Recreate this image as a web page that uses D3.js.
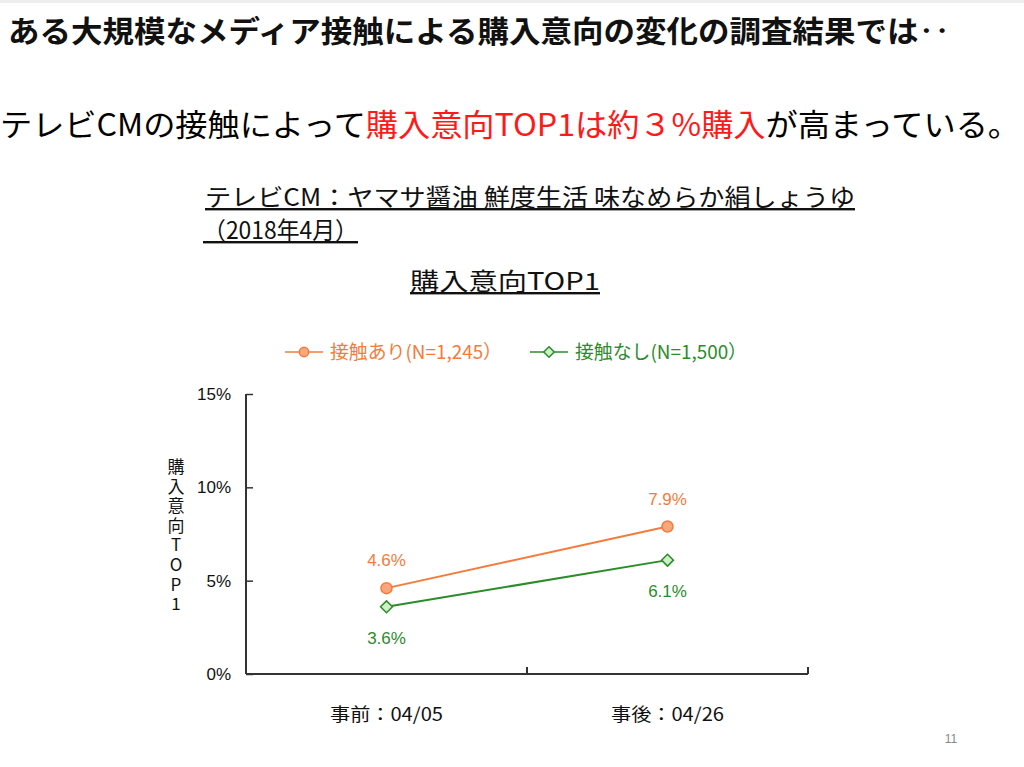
<!DOCTYPE html>
<html>
<head>
<meta charset="utf-8">
<script src="https://cdn.jsdelivr.net/npm/d3@7"></script>
<style>
body{ margin:0; background:#fff; }
svg{ display:block; }
text{ font-family:"Liberation Sans","Noto Sans CJK JP",sans-serif; }
.jp{ font-family:"Noto Sans CJK JP",sans-serif; }
</style>
</head>
<body>
<svg id="chart"></svg>
<script>
// data
var categories = ['事前：04/05', '事後：04/26'];
var series_names = ['接触あり(N=1,245）', '接触なし(N=1,500）'];
var values_ari = [4.6, 7.9];
var values_nashi = [3.6, 6.1];
var y_ticks = [0, 5, 10, 15];

var W = 1024, H = 767;
var svg = d3.select('#chart').attr('width', W).attr('height', H);

var orange = '#f47b3c', orange_fill = '#f9a77a';
var green = '#2b8c2b', green_fill = '#cdf0c6';

/**************************************************************************************/
// header texts

svg.append('rect').attr('x', 0).attr('y', 0).attr('width', W).attr('height', 3).attr('fill', '#eeeeee');

svg.append('text').attr('class', 'jp')
    .attr('x', 8).attr('y', 42)
    .attr('textLength', 942).attr('lengthAdjust', 'spacingAndGlyphs')
    .style('font-size', '30px').style('font-weight', 'bold').attr('fill', '#111')
    .text('ある大規模なメディア接触による購入意向の変化の調査結果では‥');

var line2 = svg.append('text').attr('class', 'jp')
    .attr('x', 0).attr('y', 136)
    .attr('textLength', 1020).attr('lengthAdjust', 'spacingAndGlyphs')
    .style('font-size', '31px').attr('fill', '#000');
line2.append('tspan').text('テレビCMの接触によって');
line2.append('tspan').attr('fill', '#ff1a1a').text('購入意向TOP1は約３%購入');
line2.append('tspan').text('が高まっている。');

svg.append('text').attr('class', 'jp')
    .attr('x', 205).attr('y', 206)
    .attr('textLength', 650).attr('lengthAdjust', 'spacingAndGlyphs')
    .style('font-size', '24px').style('text-decoration', 'underline').attr('fill', '#111')
    .text('テレビCM：ヤマサ醤油 鮮度生活 味なめらか絹しょうゆ');

svg.append('text').attr('class', 'jp')
    .attr('x', 203).attr('y', 239)
    .attr('textLength', 155).attr('lengthAdjust', 'spacingAndGlyphs')
    .style('font-size', '24px').style('text-decoration', 'underline').attr('fill', '#111')
    .text('（2018年4月）');

svg.append('text').attr('class', 'jp')
    .attr('x', 410).attr('y', 290)
    .attr('textLength', 190).attr('lengthAdjust', 'spacingAndGlyphs')
    .style('font-size', '24px').style('text-decoration', 'underline').attr('fill', '#111')
    .text('購入意向TOP1');

/**************************************************************************************/
// chart

var plot = { left: 246, right: 808, top: 394, bottom: 674 };

var x = d3.scaleBand().domain(categories).range([plot.left, plot.right]);
var y = d3.scaleLinear().domain([0, 15]).range([plot.bottom, plot.top]);

var yAxis = svg.append('g')
    .attr('transform', 'translate(' + plot.left + ',0)')
    .call(d3.axisLeft(y).tickValues(y_ticks).tickSize(-7).tickFormat(function(d){ return d + '%'; }));
yAxis.select('.domain').attr('stroke', '#333').attr('stroke-width', 2).attr('d', 'M0,' + plot.top + 'V' + plot.bottom);
yAxis.selectAll('.tick line').attr('stroke', '#333').attr('stroke-width', 1.5);
yAxis.selectAll('.tick text').attr('x', -15).attr('fill', '#111').style('font-size', '17px');

var xAxis = svg.append('g')
    .attr('transform', 'translate(0,' + plot.bottom + ')')
    .call(d3.axisBottom(x).tickSize(0).tickPadding(0));
xAxis.select('.domain').attr('stroke', '#333').attr('stroke-width', 2).attr('d', 'M' + plot.left + ',0H' + plot.right);
xAxis.selectAll('.tick text').attr('class', 'jp').attr('y', 34).attr('fill', '#111')
    .style('font-size', '18px').attr('textLength', 113).attr('lengthAdjust', 'spacingAndGlyphs');

// band dividers on the x axis
var dividers = categories.map(function(c){ return x(c) + x.bandwidth(); });
svg.selectAll('.divider').data(dividers).enter().append('line')
    .attr('class', 'divider')
    .attr('x1', function(d){ return d; }).attr('x2', function(d){ return d; })
    .attr('y1', plot.bottom).attr('y2', plot.bottom - 7)
    .attr('stroke', '#333').attr('stroke-width', 2);

// y axis title (vertical stacked)
svg.append('text').attr('class', 'jp')
    .attr('x', 176).attr('y', 458)
    .style('writing-mode', 'vertical-rl').style('text-orientation', 'upright')
    .style('font-size', '17px').style('letter-spacing', '2.6px').attr('fill', '#111')
    .text('購入意向TOP1');

var cx = function(d, i){ return x(categories[i]) + x.bandwidth() / 2; };
var line = d3.line().x(cx).y(function(d){ return y(d); });

// series 1
svg.append('path').datum(values_ari).attr('d', line)
    .attr('fill', 'none').attr('stroke', orange).attr('stroke-width', 2);
svg.selectAll('.pt1').data(values_ari).enter().append('circle')
    .attr('cx', cx).attr('cy', function(d){ return y(d); }).attr('r', 5.5)
    .attr('fill', orange_fill).attr('stroke', orange).attr('stroke-width', 1.5);
svg.selectAll('.lb1').data(values_ari).enter().append('text')
    .attr('x', cx).attr('y', function(d){ return y(d) - 22; })
    .attr('text-anchor', 'middle').style('font-size', '17px').attr('fill', orange)
    .text(function(d){ return d.toFixed(1) + '%'; });

// series 2
var diamond = d3.symbol().type(d3.symbolDiamond2).size(90);
svg.append('path').datum(values_nashi).attr('d', line)
    .attr('fill', 'none').attr('stroke', green).attr('stroke-width', 2);
svg.selectAll('.pt2').data(values_nashi).enter().append('path')
    .attr('d', diamond)
    .attr('transform', function(d, i){ return 'translate(' + cx(d, i) + ',' + y(d) + ')'; })
    .attr('fill', green_fill).attr('stroke', green).attr('stroke-width', 1.5);
svg.selectAll('.lb2').data(values_nashi).enter().append('text')
    .attr('x', cx).attr('y', function(d){ return y(d) + 37; })
    .attr('text-anchor', 'middle').style('font-size', '17px').attr('fill', green)
    .text(function(d){ return d.toFixed(1) + '%'; });

/**************************************************************************************/
// legend

var legend = [
    { name: series_names[0], color: orange, fill: orange_fill, x: 285, type: 'circle' },
    { name: series_names[1], color: green, fill: green_fill, x: 530, type: 'diamond' }
];
var lg = svg.selectAll('.legend').data(legend).enter().append('g')
    .attr('transform', function(d){ return 'translate(' + d.x + ',352)'; });
lg.append('line').attr('x1', 0).attr('x2', 38).attr('y1', 0).attr('y2', 0)
    .attr('stroke', function(d){ return d.color; }).attr('stroke-width', 1.5);
lg.append('path')
    .attr('d', function(d){
        return d.type == 'circle' ? d3.symbol().type(d3.symbolCircle).size(70)() : d3.symbol().type(d3.symbolDiamond2).size(70)();
    })
    .attr('transform', 'translate(19,0)')
    .attr('fill', function(d){ return d.fill; }).attr('stroke', function(d){ return d.color; }).attr('stroke-width', 1.5);
lg.append('text').attr('class', 'jp')
    .attr('x', 45).attr('y', 7)
    .attr('textLength', 172).attr('lengthAdjust', 'spacingAndGlyphs')
    .style('font-size', '19px').attr('fill', function(d){ return d.color; })
    .text(function(d){ return d.name; });

// page number
svg.append('text').attr('x', 951).attr('y', 743).attr('text-anchor', 'middle')
    .style('font-size', '12px').attr('fill', '#888').text('11');
</script>
</body>
</html>
